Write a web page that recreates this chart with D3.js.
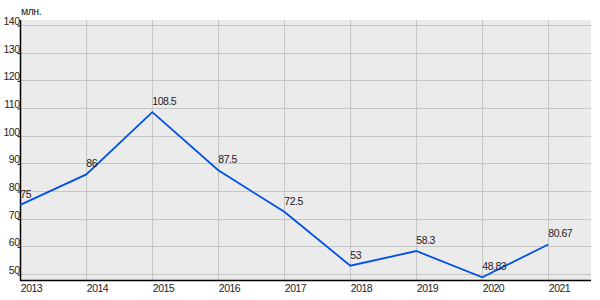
<!DOCTYPE html>
<html>
<head>
<meta charset="utf-8">
<script src="https://cdn.jsdelivr.net/npm/d3@7"></script>
<style>
  body { margin: 0; background: #fff; }
  svg text { font-family: "Liberation Sans", Arial, sans-serif; font-size: 10.5px; letter-spacing: -0.5px; fill: #222; }
</style>
</head>
<body>
<svg id="chart" width="600" height="300"></svg>
<script>
// Data
const years = [2013, 2014, 2015, 2016, 2017, 2018, 2019, 2020, 2021];
const values = [75, 86, 108.5, 87.5, 72.5, 53, 58.3, 48.83, 60.67];
const pointLabels = ['75', '86', '108.5', '87.5', '72.5', '53', '58.3', '48.83', '80.67'];
const yTicks = [50, 60, 70, 80, 90, 100, 110, 120, 130, 140];
const unitLabel = 'млн.';

// Dimensions
const plot = { left: 20, right: 591, top: 20, bottom: 280 };

const svg = d3.select('#chart');

const xScale = d3.scaleLinear()
    .domain([2013, 2021])
    .range([20.3, 548.3]);

const yScale = d3.scaleLinear()
    .domain([50, 140])
    .range([274, 25]);

// Background
svg.append('rect')
    .attr('x', plot.left)
    .attr('y', plot.top)
    .attr('width', plot.right - plot.left)
    .attr('height', plot.bottom - plot.top)
    .attr('fill', '#ebebeb');

// Grid
const grid = svg.append('g').attr('class', 'grid');
grid.selectAll('line.h')
    .data(yTicks)
    .enter()
    .append('line')
    .attr('class', 'h')
    .attr('x1', plot.left)
    .attr('x2', plot.right)
    .attr('y1', d => Math.round(yScale(d)) + 0.5)
    .attr('y2', d => Math.round(yScale(d)) + 0.5)
    .attr('stroke', '#c6c6c6')
    .attr('stroke-width', 1);

grid.selectAll('line.v')
    .data(years.slice(1))
    .enter()
    .append('line')
    .attr('class', 'v')
    .attr('x1', d => Math.round(xScale(d)) + 0.5)
    .attr('x2', d => Math.round(xScale(d)) + 0.5)
    .attr('y1', plot.top)
    .attr('y2', plot.bottom)
    .attr('stroke', '#c6c6c6')
    .attr('stroke-width', 1);

// Axes
const yAxis = d3.axisLeft(yScale)
    .tickValues(yTicks)
    .tickSize(3)
    .tickFormat(d3.format('d'));

const gY = svg.append('g')
    .attr('transform', `translate(${plot.left + 0.5}, 0.5)`)
    .call(yAxis);
gY.select('.domain').remove();
gY.selectAll('.tick line').attr('stroke', '#000');
gY.selectAll('.tick text')
    .attr('x', -1)
    .attr('dy', 0)
    .attr('y', -1)
    .attr('fill', '#222');
gY.attr('font-family', null).attr('font-size', null);

const xAxis = d3.axisBottom(xScale)
    .tickValues(years)
    .tickSize(0)
    .tickFormat(d3.format('d'));

const gX = svg.append('g')
    .attr('transform', `translate(0, ${plot.bottom})`)
    .call(xAxis);
gX.select('.domain').remove();
gX.attr('font-family', null).attr('font-size', null);
gX.selectAll('.tick text')
    .attr('text-anchor', 'start')
    .attr('x', 0)
    .attr('y', 11.5)
    .attr('dy', 0)
    .attr('fill', '#222');

svg.append('line')
    .attr('x1', plot.left + 0.5).attr('x2', plot.left + 0.5)
    .attr('y1', plot.top).attr('y2', plot.bottom + 1)
    .attr('stroke', '#000').attr('stroke-width', 1.5);
svg.append('line')
    .attr('x1', plot.left).attr('x2', plot.right)
    .attr('y1', plot.bottom + 0.5).attr('y2', plot.bottom + 0.5)
    .attr('stroke', '#000').attr('stroke-width', 1.5);

// Unit label
svg.append('text')
    .attr('x', 21)
    .attr('y', 15)
    .text(unitLabel);

// Line
const line = d3.line()
    .x((d, i) => xScale(years[i]))
    .y(d => yScale(d));

svg.append('path')
    .datum(values)
    .attr('d', line)
    .attr('fill', 'none')
    .attr('stroke', '#0050e6')
    .attr('stroke-width', 1.8);

// Point labels
svg.append('g')
    .selectAll('text')
    .data(values)
    .enter()
    .append('text')
    .attr('x', (d, i) => xScale(years[i]))
    .attr('y', d => yScale(d) - 7)
    .text((d, i) => pointLabels[i]);
</script>
</body>
</html>
